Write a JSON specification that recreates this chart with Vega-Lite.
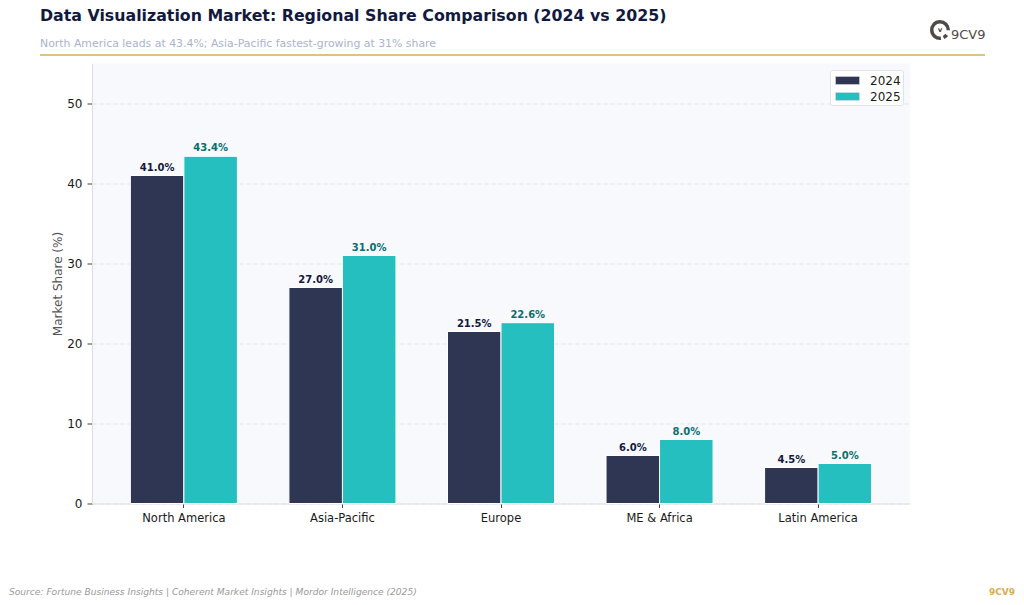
{
"$schema":"https://vega.github.io/schema/vega-lite/v6.json",
"width":818,"height":440,
"autosize":{"type":"none"},
"padding":{"left":92,"top":63.5,"right":114,"bottom":101.5},
"background":"white",
"title":{"text":"Data Visualization Market: Regional Share Comparison (2024 vs 2025)","subtitle":"North America leads at 43.4%; Asia-Pacific fastest-growing at 31% share","anchor":"start","frame":"group","dx":-52,"offset":-30,"font":"DejaVu Sans","fontSize":15.8,"fontWeight":"bold","color":"#12193f","subtitleFont":"DejaVu Sans","subtitleFontSize":10.9,"subtitleColor":"#aab3cc","subtitlePadding":13},
"config":{"font":"DejaVu Sans","view":{"fill":"#f8f9fd","stroke":null}},
"datasets":{
"bars":[
{"region":"North America","year":"2024","share":41.0,"label":"41.0%"},
{"region":"North America","year":"2025","share":43.4,"label":"43.4%"},
{"region":"Asia-Pacific","year":"2024","share":27.0,"label":"27.0%"},
{"region":"Asia-Pacific","year":"2025","share":31.0,"label":"31.0%"},
{"region":"Europe","year":"2024","share":21.5,"label":"21.5%"},
{"region":"Europe","year":"2025","share":22.6,"label":"22.6%"},
{"region":"ME & Africa","year":"2024","share":6.0,"label":"6.0%"},
{"region":"ME & Africa","year":"2025","share":8.0,"label":"8.0%"},
{"region":"Latin America","year":"2024","share":4.5,"label":"4.5%"},
{"region":"Latin America","year":"2025","share":5.0,"label":"5.0%"}]
},
"resolve":{"scale":{"color":"independent"}},
"layer":[
{"data":{"name":"bars"},
"mark":{"type":"bar","stroke":"white","strokeWidth":1},
"encoding":{
"x":{"field":"region","type":"nominal","sort":null,"scale":{"paddingInner":0.325,"paddingOuter":0.242},"axis":{"title":null,"labelAngle":0,"labelFontSize":11.5,"labelColor":"#1a1a1a","labelPadding":5,"domainColor":"#dddde2","tickColor":"#444444","tickSize":4,"grid":false}},
"xOffset":{"field":"year","type":"nominal"},
"y":{"field":"share","type":"quantitative","scale":{"domain":[0,55],"nice":false},"axis":{"values":[0,10,20,30,40,50],"title":"Market Share (%)","titleFontSize":12,"titleFontWeight":"normal","titleColor":"#555555","titlePadding":2,"labelFontSize":12,"labelColor":"#1a1a1a","labelPadding":5,"domainColor":"#dddde2","tickColor":"#444444","tickSize":5,"grid":true,"gridColor":"#e2e5ee","gridDash":[4,3],"gridWidth":1}},
"color":{"field":"year","type":"nominal","scale":{"domain":["2024","2025"],"range":["#2e3654","#25bfbf"]},"legend":{"title":null,"orient":"none","legendX":738,"legendY":6.5,"fillColor":"#ffffff","strokeColor":"#e2e2e6","cornerRadius":2,"padding":2,"labelFontSize":12,"labelColor":"#1a1a1a","labelExpr":"datum.label+'\u00a0'","symbolType":"M-1.5,-0.5H1.5V0.5H-1.5Z","symbolSize":256,"symbolOffset":7,"symbolStrokeColor":"#dfe1ea","symbolStrokeWidth":0.5,"symbolOpacity":1,"rowPadding":1,"labelOffset":14}}
}},
{"data":{"name":"bars"},
"mark":{"type":"text","baseline":"bottom","dy":-3,"fontSize":10,"fontWeight":"bold"},
"encoding":{
"x":{"field":"region","type":"nominal","sort":null},
"xOffset":{"field":"year","type":"nominal"},
"y":{"field":"share","type":"quantitative"},
"text":{"field":"label"},
"color":{"field":"year","type":"nominal","scale":{"domain":["2024","2025"],"range":["#12193f","#0b6e6e"]},"legend":null}
}},
{"data":{"values":[{"note":"rule"}]},
"mark":{"type":"rule","color":"#d9ac52","strokeWidth":1.6},
"encoding":{"x":{"value":-52},"x2":{"value":893},"y":{"value":-8.5}}},
{"data":{"values":[{"note":"Source: Fortune Business Insights | Coherent Market Insights | Mordor Intelligence (2025)"}]},
"mark":{"type":"text","align":"left","baseline":"middle","fontSize":9.1,"fontStyle":"italic","color":"#999999"},
"encoding":{"text":{"field":"note"},"x":{"value":-83},"y":{"value":528}}},
{"data":{"values":[{"note":"9CV9"}]},
"mark":{"type":"text","align":"right","baseline":"middle","fontSize":9,"fontWeight":"bold","color":"#d9ac52"},
"encoding":{"text":{"field":"note"},"x":{"value":923},"y":{"value":528}}},
{"data":{"values":[{"note":"9CV9"}]},
"mark":{"type":"text","align":"left","baseline":"middle","fontSize":13,"fontWeight":"normal","color":"#4f4a48"},
"encoding":{"text":{"field":"note"},"x":{"value":859},"y":{"value":-29}}},
{"data":{"values":[{"note":"v"}]},
"mark":{"type":"text","align":"center","baseline":"middle","fontSize":7,"fontWeight":"bold","color":"#4f4a48"},
"encoding":{"text":{"field":"note"},"x":{"value":848},"y":{"value":-34}}},
{"data":{"values":[{"note":"ring"}]},
"mark":{"type":"arc","innerRadius":6.5,"outerRadius":10,"theta":-3.25,"theta2":1.6,"color":"#4f4a48"},
"encoding":{"x":{"value":848},"y":{"value":-33.5}}},
{"data":{"values":[{"note":"ring stub"}]},
"mark":{"type":"arc","innerRadius":6.5,"outerRadius":10,"theta":2.2,"theta2":2.7,"color":"#4f4a48"},
"encoding":{"x":{"value":848},"y":{"value":-33.5}}}
]
}
